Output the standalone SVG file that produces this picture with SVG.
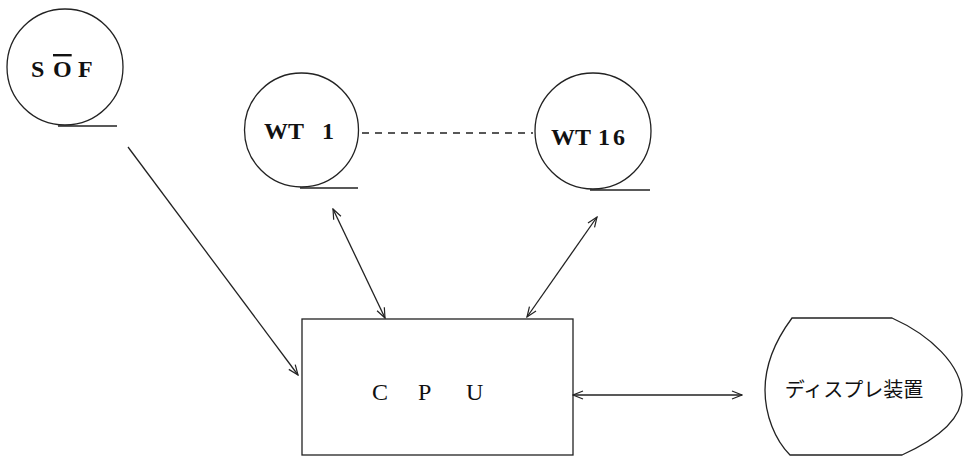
<svg xmlns="http://www.w3.org/2000/svg" width="968" height="457" viewBox="0 0 968 457">
<style>
.shape{fill:none;stroke:#222;stroke-width:1.3}
.lbl{font-family:"Liberation Serif",serif;font-weight:bold;font-size:24px;fill:#111}
.cpu{font-family:"Liberation Serif",serif;font-size:24px;fill:#111}
.jp{font-family:"Noto Sans CJK JP",sans-serif;font-size:20px;fill:#111}
.conn{fill:none;stroke:#222;stroke-width:1.3}
</style>
<defs>
<marker id="arr" viewBox="0 0 12 10" refX="11" refY="5" markerWidth="12" markerHeight="10" markerUnits="userSpaceOnUse" orient="auto-start-reverse">
<path d="M1,1 L11,5 L1,9" fill="none" stroke="#222" stroke-width="1.2"/>
</marker>
</defs>
<rect width="968" height="457" fill="#fff"/>
<g id="sof">
<circle class="shape" cx="65" cy="67" r="58"/>
<line class="shape" x1="58" y1="126" x2="117" y2="126"/>
<text class="lbl" y="77"><tspan x="31">S</tspan><tspan x="53" text-decoration="overline">O</tspan><tspan x="78">F</tspan></text>
</g>
<g id="wt1">
<circle class="shape" cx="301.5" cy="130" r="57"/>
<line class="shape" x1="300" y1="188" x2="358" y2="188"/>
<text class="lbl" y="139"><tspan x="264">WT</tspan><tspan x="322">1</tspan></text>
</g>
<g id="wt16">
<circle class="shape" cx="593" cy="131" r="58"/>
<line class="shape" x1="590" y1="190" x2="650" y2="190"/>
<text class="lbl" y="145"><tspan x="551">WT</tspan><tspan x="598">1</tspan><tspan x="613">6</tspan></text>
</g>
<g id="cpu">
<rect class="shape" x="302" y="319" width="271" height="136"/>
<text class="cpu" y="400"><tspan x="372">C</tspan><tspan x="418">P</tspan><tspan x="466">U</tspan></text>
</g>
<g id="display">
<path class="shape" d="M792,318 L892,318 C930,335 962,365 962,395 C962,420 935,440 902,455 L790,455 C775,440 765,415 765,390 C765,370 772,345 792,318 Z"/>
<text class="jp" x="854" y="397" text-anchor="middle">ディスプレ装置</text>
</g>
<g id="connectors">
<line class="conn" x1="362" y1="133" x2="533" y2="133" stroke-dasharray="7 6"/>
<line class="conn" x1="128" y1="147" x2="298" y2="375" marker-end="url(#arr)"/>
<line class="conn" x1="333" y1="209" x2="385" y2="318" marker-start="url(#arr)" marker-end="url(#arr)"/>
<line class="conn" x1="597" y1="217" x2="527" y2="317" marker-start="url(#arr)" marker-end="url(#arr)"/>
<line class="conn" x1="573" y1="395" x2="742" y2="395" marker-start="url(#arr)" marker-end="url(#arr)"/>
</g>
</svg>
